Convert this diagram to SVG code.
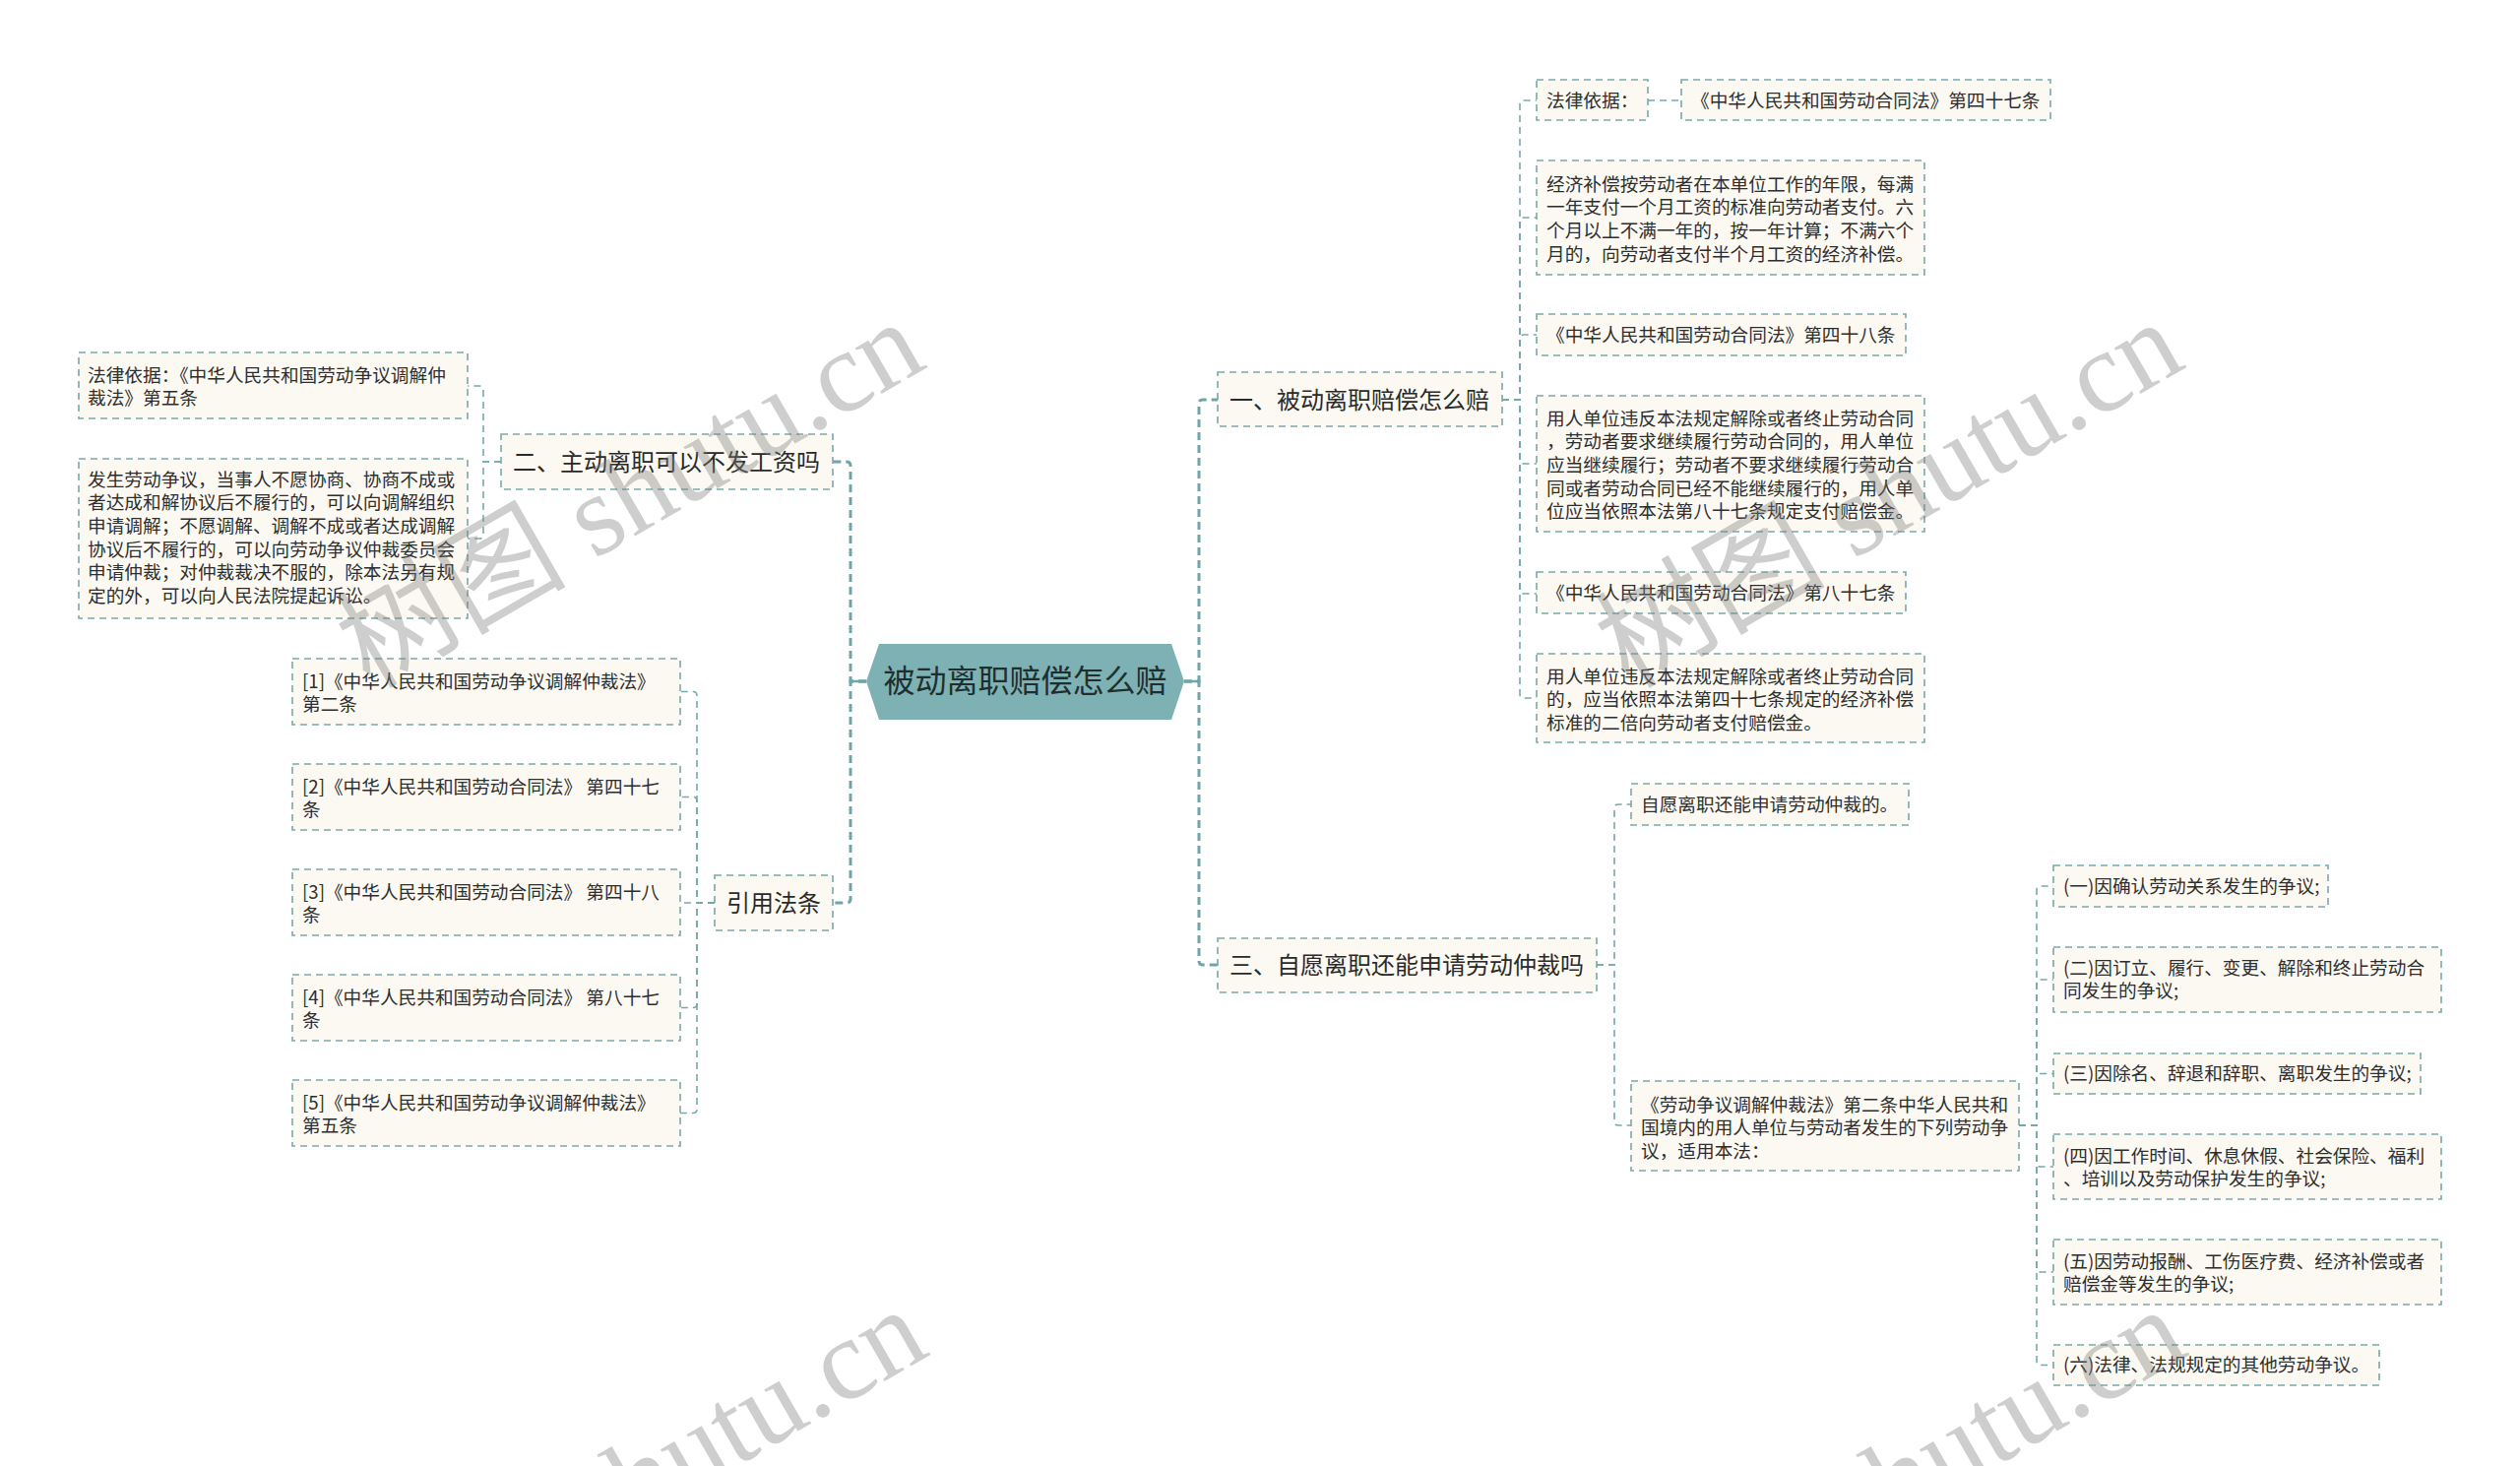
<svg xmlns="http://www.w3.org/2000/svg" width="2560" height="1489" viewBox="0 0 2560 1489">
<style>
  .box { fill: #fbf9f1; stroke: #78a9aa; stroke-width: 1.6; stroke-dasharray: 7 5; }
  .t { font-family: "Noto Sans CJK SC", "Noto Sans", sans-serif; font-size: 18.67px; fill: #2e2e2e; }
  .tm { font-family: "Noto Sans CJK SC", "Noto Sans", sans-serif; font-size: 24px; fill: #2a2a2a; }
  .tc { font-family: "Noto Sans CJK SC", "Noto Sans", sans-serif; font-size: 32px; fill: #1f2f30; }
  .c { fill: none; stroke: #78a9aa; stroke-width: 1.6; stroke-dasharray: 7 5; }
  .cm { fill: none; stroke: #6fa5a8; stroke-width: 3; stroke-dasharray: 8 5; }
  .wm { font-family: "Liberation Serif", "Noto Sans CJK SC", serif; font-size: 117px; fill: #808080; opacity: 0.38; }
</style>
<rect width="2560" height="1489" fill="#ffffff"/>

<g id="connectors">
  <path class="cm" d="M880,692 H864 V473 Q864,469 860,469 H846"/>
  <path class="cm" d="M880,692 H864 V913 Q864,917 860,917 H846"/>
  <path class="cm" d="M1203,692 H1218 V410 Q1218,406 1222,406 H1237"/>
  <path class="cm" d="M1203,692 H1218 V976 Q1218,980 1222,980 H1237"/>
  <line x1="864" y1="692" x2="880" y2="692" stroke="#6fa5a8" stroke-width="2.5"/>
  <line x1="1203" y1="692" x2="1218" y2="692" stroke="#6fa5a8" stroke-width="2.5"/>
  <path class="c" d="M1526,406 H1544 V106 Q1544,102 1548,102 H1561"/>
  <path class="c" d="M1526,406 H1544 V225 Q1544,221 1548,221 H1561"/>
  <path class="c" d="M1526,406 H1544 V344 Q1544,340 1548,340 H1561"/>
  <path class="c" d="M1526,406 H1544 V467 Q1544,471 1548,471 H1561"/>
  <path class="c" d="M1526,406 H1544 V599 Q1544,603 1548,603 H1561"/>
  <path class="c" d="M1526,406 H1544 V705 Q1544,709 1548,709 H1561"/>
  <path class="c" d="M1674,102 H1708"/>
  <path class="c" d="M509,469 H491 V396 Q491,392 487,392 H475"/>
  <path class="c" d="M509,469 H491 V543 Q491,547 487,547 H475"/>
  <path class="c" d="M726,917 H708 V706.5 Q708,702.5 704,702.5 H691"/>
  <path class="c" d="M726,917 H708 V813.5 Q708,809.5 704,809.5 H691"/>
  <path class="c" d="M726,917 H691"/>
  <path class="c" d="M726,917 H708 V1019.5 Q708,1023.5 704,1023.5 H691"/>
  <path class="c" d="M726,917 H708 V1126.5 Q708,1130.5 704,1130.5 H691"/>
  <path class="c" d="M1622,980 H1640 V821 Q1640,817 1644,817 H1657"/>
  <path class="c" d="M1622,980 H1640 V1139 Q1640,1143 1644,1143 H1657"/>
  <path class="c" d="M2051,1143 H2069 V904 Q2069,900 2073,900 H2086"/>
  <path class="c" d="M2051,1143 H2069 V999 Q2069,995 2073,995 H2086"/>
  <path class="c" d="M2051,1143 H2069 V1094.5 Q2069,1090.5 2073,1090.5 H2086"/>
  <path class="c" d="M2051,1143 H2069 V1181 Q2069,1185 2073,1185 H2086"/>
  <path class="c" d="M2051,1143 H2069 V1288 Q2069,1292 2073,1292 H2086"/>
  <path class="c" d="M2051,1143 H2069 V1382.5 Q2069,1386.5 2073,1386.5 H2086"/>
</g>

<g id="root">
  <polygon points="880,692 893,654 1190,654 1203,692 1190,731 893,731" fill="#7db1b3"/>
  <text class="tc" x="1041.5" y="703" text-anchor="middle">被动离职赔偿怎么赔</text>
</g>

<g id="n1">
  <rect class="box" x="1237" y="378" width="289" height="55"/>
  <text class="tm" x="1249" y="414.5">一、被动离职赔偿怎么赔</text>
</g>
<g id="n1-basis">
  <rect class="box" x="1561" y="81" width="113" height="41"/>
  <text class="t" x="1571" y="108.5">法律依据：</text>
</g>
<g id="n1-basis-47">
  <rect class="box" x="1708" y="81" width="375" height="41"/>
  <text class="t" x="1718" y="108.5">《中华人民共和国劳动合同法》第四十七条</text>
</g>
<g id="n1-c2">
  <rect class="box" x="1561" y="163" width="394" height="116"/>
  <text class="t" x="1571" y="193.5"><tspan x="1571">经济补偿按劳动者在本单位工作的年限，每满</tspan><tspan x="1571" dy="23.7">一年支付一个月工资的标准向劳动者支付。六</tspan><tspan x="1571" dy="23.7">个月以上不满一年的，按一年计算；不满六个</tspan><tspan x="1571" dy="23.7">月的，向劳动者支付半个月工资的经济补偿。</tspan></text>
</g>
<g id="n1-c3">
  <rect class="box" x="1561" y="319" width="375" height="42"/>
  <text class="t" x="1571" y="346.5">《中华人民共和国劳动合同法》第四十八条</text>
</g>
<g id="n1-c4">
  <rect class="box" x="1561" y="402" width="394" height="138"/>
  <text class="t" x="1571" y="431.5"><tspan x="1571">用人单位违反本法规定解除或者终止劳动合同</tspan><tspan x="1571" dy="23.7">，劳动者要求继续履行劳动合同的，用人单位</tspan><tspan x="1571" dy="23.7">应当继续履行；劳动者不要求继续履行劳动合</tspan><tspan x="1571" dy="23.7">同或者劳动合同已经不能继续履行的，用人单</tspan><tspan x="1571" dy="23.7">位应当依照本法第八十七条规定支付赔偿金。</tspan></text>
</g>
<g id="n1-c5">
  <rect class="box" x="1561" y="581" width="375" height="42"/>
  <text class="t" x="1571" y="608.5">《中华人民共和国劳动合同法》第八十七条</text>
</g>
<g id="n1-c6">
  <rect class="box" x="1561" y="664" width="394" height="90"/>
  <text class="t" x="1571" y="693.5"><tspan x="1571">用人单位违反本法规定解除或者终止劳动合同</tspan><tspan x="1571" dy="23.7">的，应当依照本法第四十七条规定的经济补偿</tspan><tspan x="1571" dy="23.7">标准的二倍向劳动者支付赔偿金。</tspan></text>
</g>

<g id="n2">
  <rect class="box" x="509" y="441" width="337" height="56"/>
  <text class="tm" x="521" y="477.5">二、主动离职可以不发工资吗</text>
</g>
<g id="n2-c1">
  <rect class="box" x="80" y="358" width="395" height="67"/>
  <text class="t" x="89" y="387.5"><tspan x="89">法律依据：《中华人民共和国劳动争议调解仲</tspan><tspan x="89" dy="23.7">裁法》第五条</tspan></text>
</g>
<g id="n2-c2">
  <rect class="box" x="80" y="466" width="395" height="162"/>
  <text class="t" x="89" y="493.5"><tspan x="89">发生劳动争议，当事人不愿协商、协商不成或</tspan><tspan x="89" dy="23.7">者达成和解协议后不履行的，可以向调解组织</tspan><tspan x="89" dy="23.7">申请调解；不愿调解、调解不成或者达成调解</tspan><tspan x="89" dy="23.7">协议后不履行的，可以向劳动争议仲裁委员会</tspan><tspan x="89" dy="23.7">申请仲裁；对仲裁裁决不服的，除本法另有规</tspan><tspan x="89" dy="23.7">定的外，可以向人民法院提起诉讼。</tspan></text>
</g>

<g id="n-ref">
  <rect class="box" x="726" y="889" width="120" height="56"/>
  <text class="tm" x="738" y="925.5">引用法条</text>
</g>
<g id="ref1">
  <rect class="box" x="297" y="669" width="394" height="67"/>
  <text class="t" x="307" y="698.5"><tspan x="307">[1]《中华人民共和国劳动争议调解仲裁法》</tspan><tspan x="307" dy="23.5">第二条</tspan></text>
</g>
<g id="ref2">
  <rect class="box" x="297" y="776" width="394" height="67"/>
  <text class="t" x="307" y="805.5"><tspan x="307">[2]《中华人民共和国劳动合同法》 第四十七</tspan><tspan x="307" dy="23.5">条</tspan></text>
</g>
<g id="ref3">
  <rect class="box" x="297" y="883" width="394" height="67"/>
  <text class="t" x="307" y="912.5"><tspan x="307">[3]《中华人民共和国劳动合同法》 第四十八</tspan><tspan x="307" dy="23.5">条</tspan></text>
</g>
<g id="ref4">
  <rect class="box" x="297" y="990" width="394" height="67"/>
  <text class="t" x="307" y="1019.5"><tspan x="307">[4]《中华人民共和国劳动合同法》 第八十七</tspan><tspan x="307" dy="23.5">条</tspan></text>
</g>
<g id="ref5">
  <rect class="box" x="297" y="1097" width="394" height="67"/>
  <text class="t" x="307" y="1126.5"><tspan x="307">[5]《中华人民共和国劳动争议调解仲裁法》</tspan><tspan x="307" dy="23.5">第五条</tspan></text>
</g>

<g id="n3">
  <rect class="box" x="1237" y="953" width="385" height="55"/>
  <text class="tm" x="1249" y="988.5">三、自愿离职还能申请劳动仲裁吗</text>
</g>
<g id="n3-c1">
  <rect class="box" x="1657" y="796" width="282" height="42"/>
  <text class="t" x="1667" y="823.5">自愿离职还能申请劳动仲裁的。</text>
</g>
<g id="n3-c2">
  <rect class="box" x="1657" y="1098" width="394" height="91"/>
  <text class="t" x="1667" y="1128.5"><tspan x="1667">《劳动争议调解仲裁法》第二条中华人民共和</tspan><tspan x="1667" dy="23.5">国境内的用人单位与劳动者发生的下列劳动争</tspan><tspan x="1667" dy="23.5">议，适用本法：</tspan></text>
</g>
<g id="item1">
  <rect class="box" x="2086" y="879" width="279" height="42"/>
  <text class="t" x="2096" y="906.5">(一)因确认劳动关系发生的争议;</text>
</g>
<g id="item2">
  <rect class="box" x="2086" y="962" width="394" height="66"/>
  <text class="t" x="2096" y="989.5"><tspan x="2096">(二)因订立、履行、变更、解除和终止劳动合</tspan><tspan x="2096" dy="23.3">同发生的争议;</tspan></text>
</g>
<g id="item3">
  <rect class="box" x="2086" y="1070" width="373" height="41"/>
  <text class="t" x="2096" y="1097">(三)因除名、辞退和辞职、离职发生的争议;</text>
</g>
<g id="item4">
  <rect class="box" x="2086" y="1152" width="394" height="66"/>
  <text class="t" x="2096" y="1180.5"><tspan x="2096">(四)因工作时间、休息休假、社会保险、福利</tspan><tspan x="2096" dy="23.3">、培训以及劳动保护发生的争议;</tspan></text>
</g>
<g id="item5">
  <rect class="box" x="2086" y="1259" width="394" height="66"/>
  <text class="t" x="2096" y="1287.5"><tspan x="2096">(五)因劳动报酬、工伤医疗费、经济补偿或者</tspan><tspan x="2096" dy="23.3">赔偿金等发生的争议;</tspan></text>
</g>
<g id="item6">
  <rect class="box" x="2086" y="1366" width="331" height="41"/>
  <text class="t" x="2096" y="1393">(六)法律、法规规定的其他劳动争议。</text>
</g>

<g id="watermark">
  <text class="wm" x="944" y="372" text-anchor="end" transform="rotate(-30 944 372)">树图 shutu.cn</text>
  <text class="wm" x="2223" y="372" text-anchor="end" transform="rotate(-30 2223 372)">树图 shutu.cn</text>
  <text class="wm" x="947" y="1375" text-anchor="end" transform="rotate(-30 947 1375)">树图 shutu.cn</text>
  <text class="wm" x="2226" y="1375" text-anchor="end" transform="rotate(-30 2226 1375)">树图 shutu.cn</text>
</g>
</svg>
